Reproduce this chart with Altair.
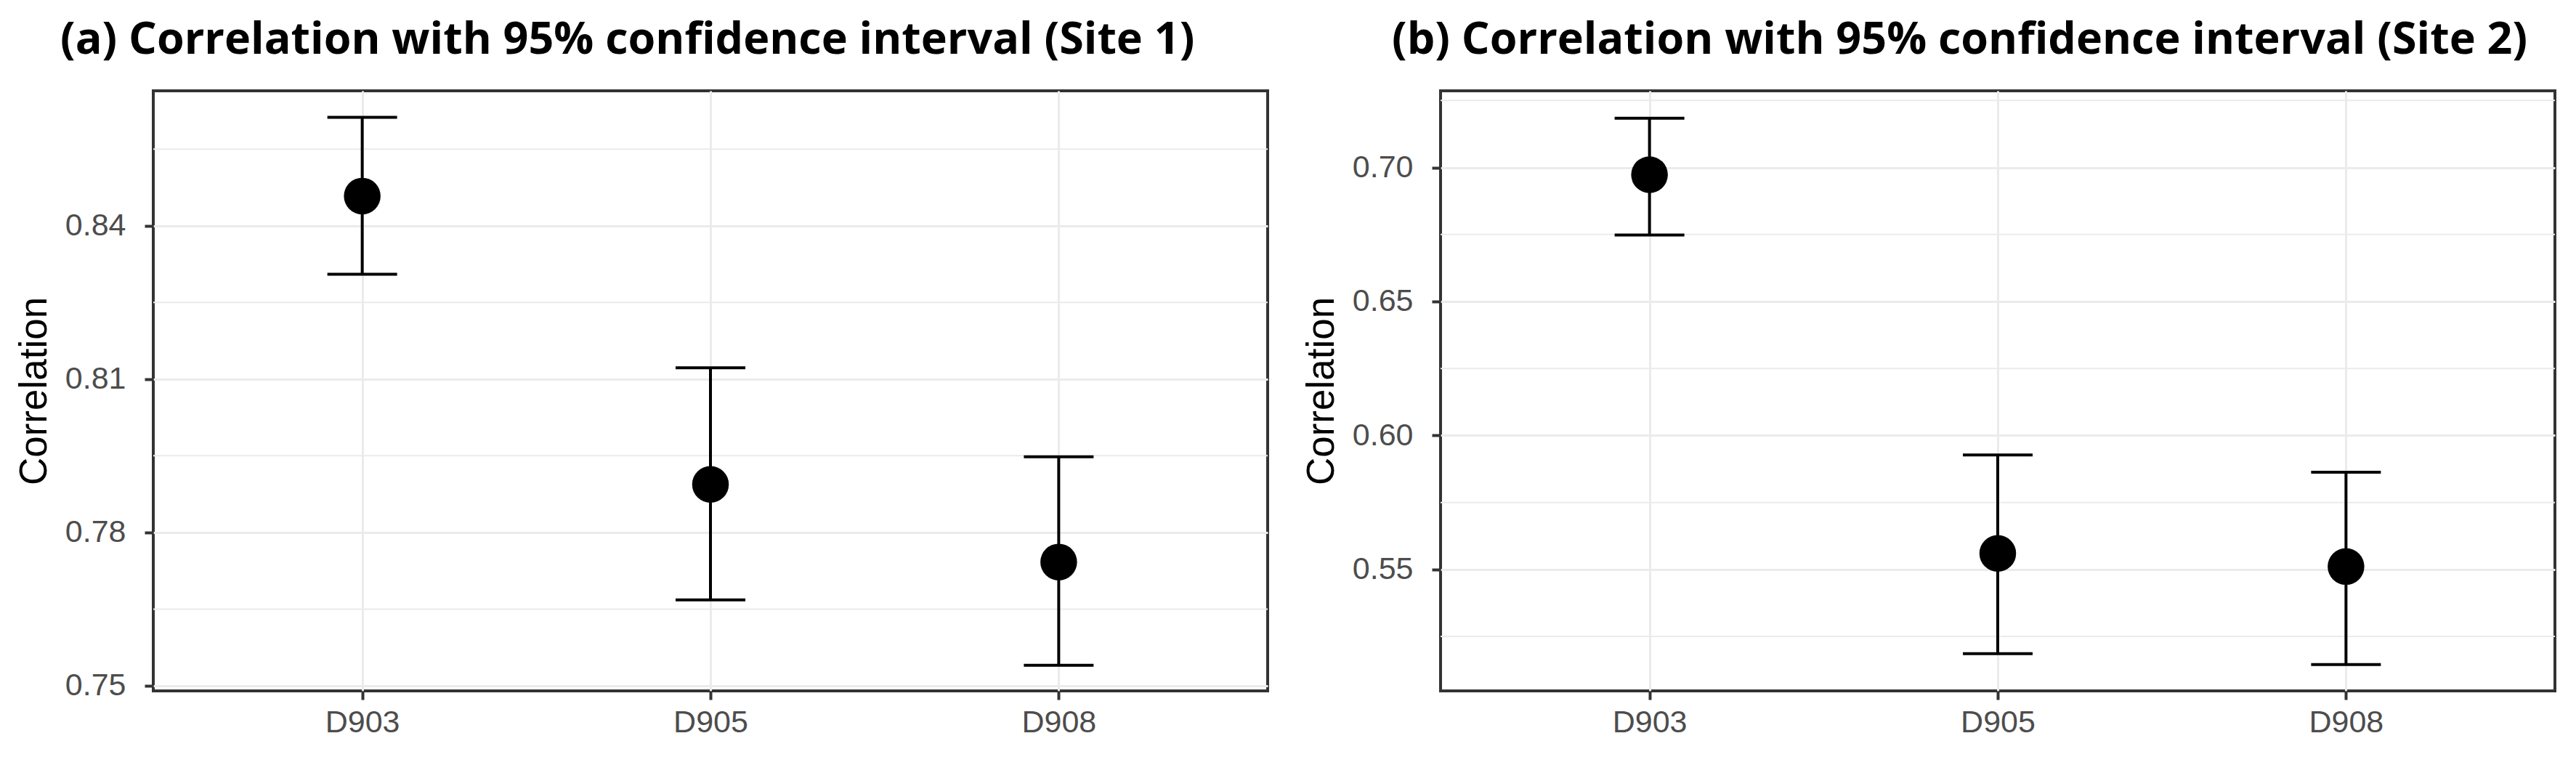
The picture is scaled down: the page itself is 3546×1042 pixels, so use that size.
import altair as alt
import pandas as pd

models = ["D903", "D905", "D908"]

site1_r = [0.8458, 0.7894, 0.7742]
site1_lo = [0.8305, 0.7668, 0.7540]
site1_hi = [0.8612, 0.8122, 0.7948]

site2_r = [0.6973, 0.5560, 0.5511]
site2_lo = [0.6748, 0.5186, 0.5145]
site2_hi = [0.7184, 0.5927, 0.5863]

site1_ticks = [0.75, 0.78, 0.81, 0.84]
site1_minor = [0.765, 0.795, 0.825, 0.855]
site2_ticks = [0.55, 0.60, 0.65, 0.70]
site2_minor = [0.525, 0.575, 0.625, 0.675, 0.725]

site1_domain = [0.749, 0.8664]
site2_domain = [0.5047, 0.7286]

title1 = "(a) Correlation with 95% confidence interval (Site 1)"
title2 = "(b) Correlation with 95% confidence interval (Site 2)"

AXIS_FONT = "Liberation Sans"


def panel(r, lo, hi, ticks, minor, domain, title, dx):
    df = pd.DataFrame({"model": models, "r": r, "lo": lo, "hi": hi})
    mdf = pd.DataFrame({"v": minor})

    xenc = alt.X(
        "model:N",
        sort=models,
        scale=alt.Scale(type="point", padding=0.6),
        axis=alt.Axis(
            title=None, labelFont=AXIS_FONT, labelFontSize=43, labelColor="#4D4D4D",
            labelPadding=10, labelAngle=0, tickSize=12, tickWidth=4, tickColor="#333333",
            domain=False, grid=True, gridColor="#EBEBEB", gridWidth=3,
        ),
    )
    yscale = alt.Scale(domain=domain, zero=False, nice=False)
    yaxis = alt.Axis(
        title="Correlation", values=ticks, format=".2f",
        labelFont=AXIS_FONT, labelFontSize=43, labelColor="#4D4D4D", labelPadding=26,
        tickSize=12, tickWidth=4, tickColor="#333333", domain=False,
        grid=True, gridColor="#EBEBEB", gridWidth=3,
        titleFont=AXIS_FONT, titleFontSize=53, titleFontWeight="normal",
        titleColor="black", titlePadding=15,
    )

    minor_layer = alt.Chart(mdf).mark_rule(color="#EBEBEB", strokeWidth=2).encode(
        y=alt.Y("v:Q", scale=yscale, axis=yaxis)
    )
    base = alt.Chart(df)
    bars = base.mark_rule(color="black", strokeWidth=4).encode(
        x=xenc, y=alt.Y("lo:Q", scale=yscale, axis=yaxis), y2="hi:Q"
    )
    cap_lo = base.mark_tick(color="black", size=96, thickness=4, orient="horizontal", opacity=1).encode(
        x=xenc, y=alt.Y("lo:Q", scale=yscale, axis=yaxis)
    )
    cap_hi = base.mark_tick(color="black", size=96, thickness=4, orient="horizontal", opacity=1).encode(
        x=xenc, y=alt.Y("hi:Q", scale=yscale, axis=yaxis)
    )
    pts = base.mark_circle(color="black", size=2550, opacity=1).encode(
        x=xenc, y=alt.Y("r:Q", scale=yscale, axis=yaxis)
    )
    return alt.layer(minor_layer, bars, cap_lo, cap_hi, pts).properties(
        width=1534,
        height=826,
        title=alt.TitleParams(
            title, anchor="start", frame="group", dx=dx, font="Open Sans", fontSize=61,
            fontWeight="bold", color="black", baseline="alphabetic", offset=-10,
        ),
    )


a = panel(site1_r, site1_lo, site1_hi, site1_ticks, site1_minor, site1_domain, title1, -128)
b = panel(site2_r, site2_lo, site2_hi, site2_ticks, site2_minor, site2_domain, title2, -67)

chart = (
    alt.hconcat(a, b, spacing=43)
    .properties(padding={"left": 11, "top": 15, "right": 5, "bottom": 5}, background="white")
    .configure_view(stroke="#333333", strokeWidth=4)
)

chart.save("out.html", embed_options={"renderer": "svg", "actions": False})
